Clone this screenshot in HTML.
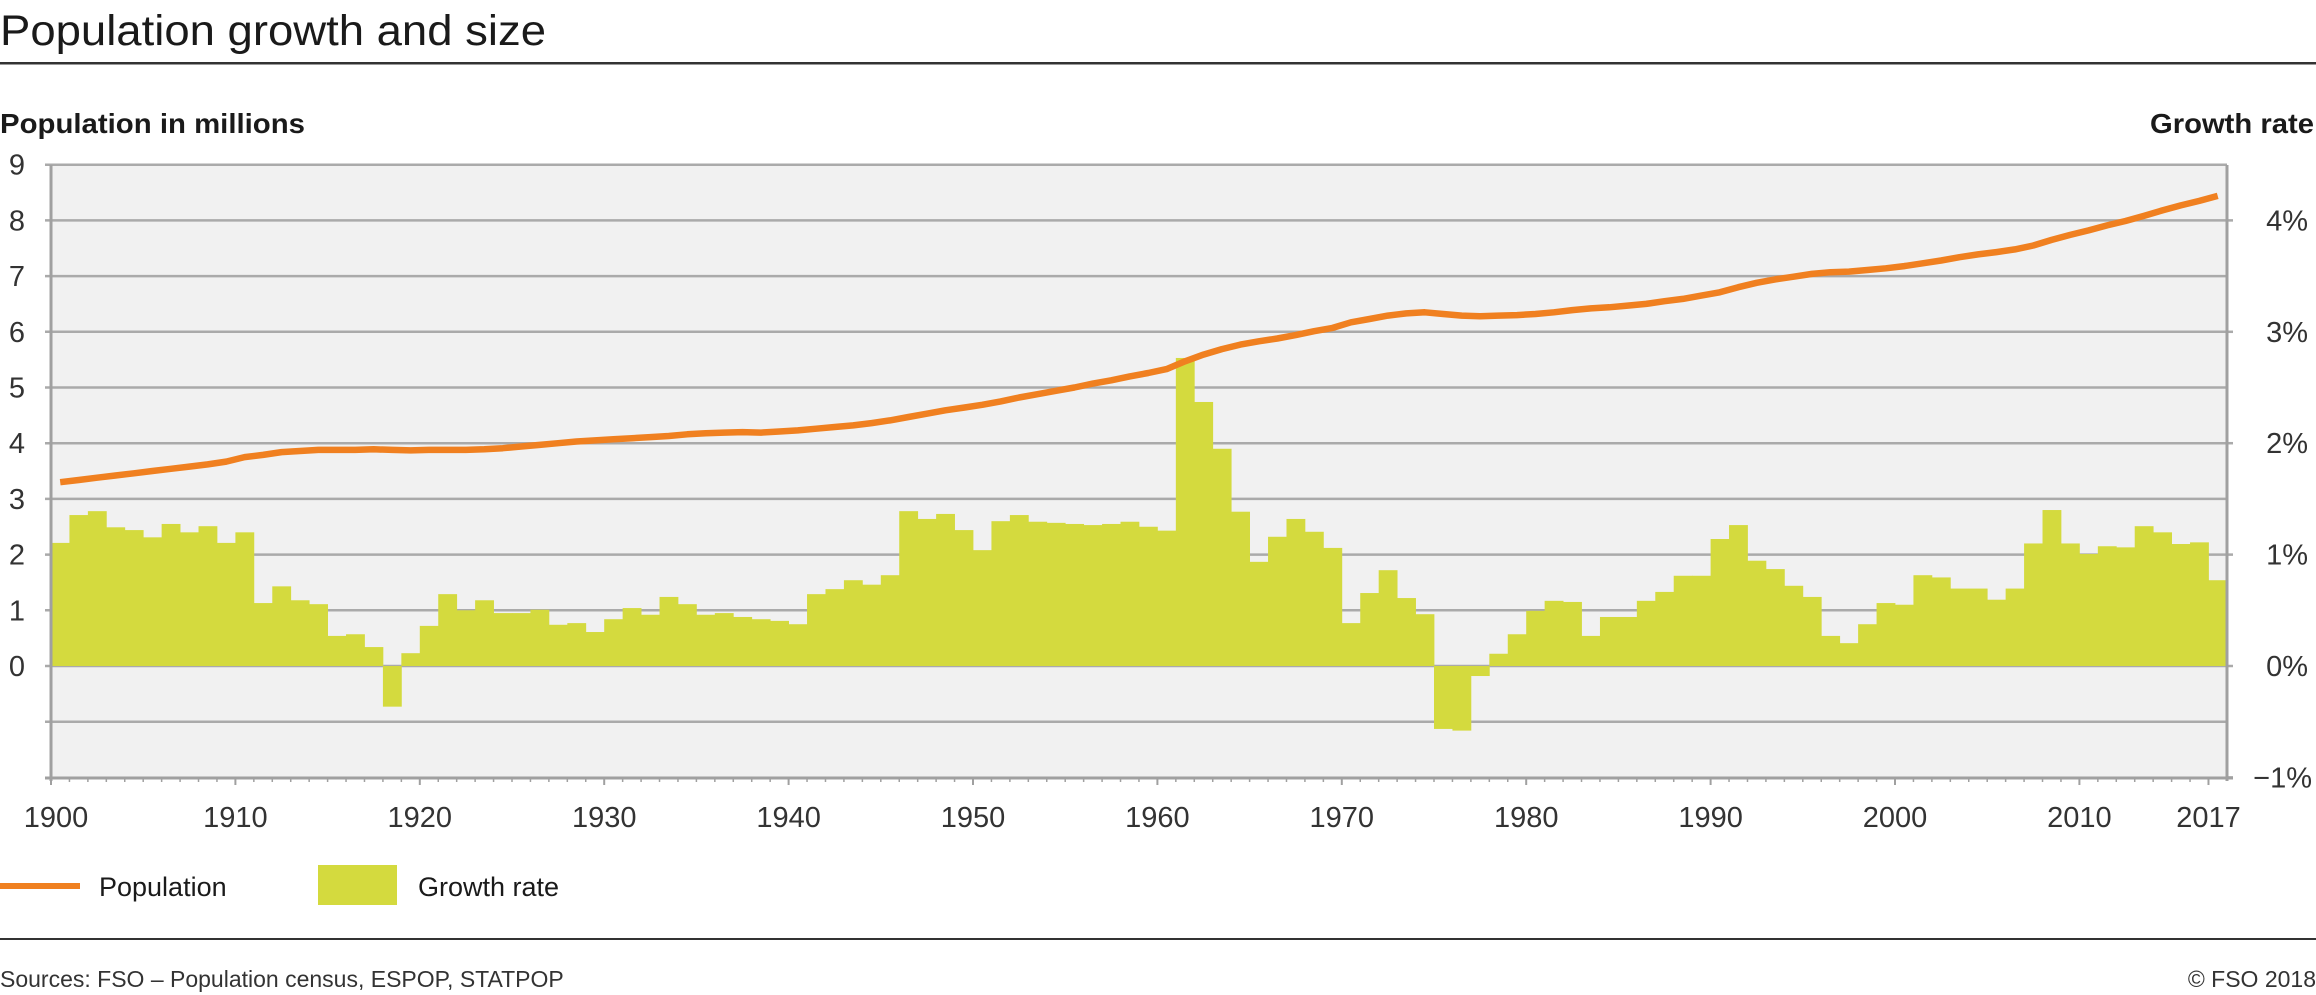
<!DOCTYPE html>
<html><head><meta charset="utf-8">
<style>
html,body{margin:0;padding:0;background:#fff;}
svg{display:block;font-family:"Liberation Sans",sans-serif;}
</style></head>
<body>
<svg id="chart" width="2316" height="995" viewBox="0 0 2316 995" xmlns="http://www.w3.org/2000/svg">
  <text x="0" y="45" font-size="43" fill="#1a1a1a" textLength="546" lengthAdjust="spacingAndGlyphs">Population growth and size</text>
  <rect x="0" y="62" width="2316" height="2.5" fill="#333"/>
  <text x="0" y="133" font-size="28" fill="#1a1a1a" font-weight="bold" textLength="305" lengthAdjust="spacingAndGlyphs">Population in millions</text>
  <text x="2314" y="133" font-size="28" fill="#1a1a1a" font-weight="bold" text-anchor="end" textLength="164" lengthAdjust="spacingAndGlyphs">Growth rate</text>
  <rect x="51" y="165" width="2176" height="613" fill="#f1f1f1"/>
  <g id="grid"></g>
  <g id="bars"></g>
  <g id="line"></g>
  <g id="axes"></g>
  <line x1="0" y1="886" x2="80" y2="886" stroke="#f08020" stroke-width="6"/>
  <text x="99" y="896" font-size="27" fill="#1a1a1a">Population</text>
  <rect x="318" y="865" width="79" height="40" fill="#d4da3e"/>
  <text x="418" y="896" font-size="27" fill="#1a1a1a">Growth rate</text>
  <rect x="0" y="938" width="2316" height="2" fill="#333"/>
  <text x="0" y="987" font-size="23" fill="#333">Sources: FSO – Population census, ESPOP, STATPOP</text>
  <text x="2316" y="987" font-size="23" fill="#333" text-anchor="end">© FSO 2018</text>
</svg>
<script>
const years = [];
for (let y = 1900; y <= 2017; y++) years.push(y);
const population = [3.30,3.34,3.38,3.42,3.46,3.50,3.54,3.58,3.62,3.67,3.75,3.79,3.84,3.86,3.88,3.88,3.88,3.89,3.88,3.87,3.88,3.88,3.88,3.89,3.91,3.94,3.97,4.00,4.03,4.05,4.07,4.09,4.11,4.13,4.16,4.18,4.19,4.20,4.19,4.21,4.23,4.26,4.29,4.32,4.36,4.41,4.47,4.53,4.59,4.64,4.69,4.75,4.82,4.88,4.94,5.00,5.07,5.13,5.20,5.26,5.33,5.47,5.59,5.69,5.77,5.83,5.88,5.94,6.01,6.07,6.17,6.23,6.29,6.33,6.35,6.32,6.29,6.28,6.29,6.30,6.32,6.35,6.39,6.42,6.44,6.47,6.50,6.55,6.59,6.65,6.71,6.80,6.88,6.94,6.99,7.04,7.07,7.08,7.11,7.14,7.18,7.23,7.28,7.34,7.39,7.43,7.48,7.55,7.65,7.74,7.82,7.91,7.99,8.08,8.18,8.27,8.35,8.44];
const growthRate = [1.105,1.355,1.39,1.245,1.22,1.155,1.275,1.2,1.255,1.105,1.2,0.565,0.715,0.59,0.555,0.27,0.285,0.17,-0.365,0.115,0.36,0.645,0.5,0.59,0.475,
0.475,0.505,0.37,0.385,0.305,0.42,0.52,0.46,0.62,0.555,0.46,0.475,0.44,0.42,0.405,0.375,0.645,0.69,0.77,0.73,0.815,1.39,1.32,1.365,1.22,1.04,1.30,1.355,1.295,
1.285,1.275,1.265,1.275,1.295,1.25,1.215,2.765,2.37,1.95,1.385,0.935,1.16,1.32,1.205,1.06,0.385,0.655,0.86,0.61,0.465,-0.565,-0.58,-0.09,0.11,0.285,0.495,0.585,
0.575,0.27,0.44,0.44,0.585,0.665,0.81,0.81,1.14,1.265,0.945,0.87,0.72,0.62,0.27,0.205,0.375,0.565,0.55,0.815,0.795,0.695,0.695,0.595,0.695,1.10,1.40,1.10,1.005,1.075,1.065,1.255,1.20,1.095,1.11,0.77];
const leftTicks = [0,1,2,3,4,5,6,7,8,9];
const gridValues = [-1,0,1,2,3,4,5,6,7,8,9];
const rightTicks = [-1,0,1,2,3,4];
const rightTickLabels = ["−1%","0%","1%","2%","3%","4%"];
const xTicks = [1900,1910,1920,1930,1940,1950,1960,1970,1980,1990,2000,2010,2017];

const NS = "http://www.w3.org/2000/svg";
const X0 = 51, STEP = 18.44, Y0 = 666, UNIT = 55.7;
const xScale = y => X0 + (y - 1900) * STEP;
const yLeft = m => Y0 - m * UNIT;
const yRight = p => Y0 - p * 2 * UNIT;
function mk(tag, attrs, parent) {
  const e = document.createElementNS(NS, tag);
  for (const k in attrs) e.setAttribute(k, attrs[k]);
  parent.appendChild(e);
  return e;
}
const grid = document.getElementById('grid'), bars = document.getElementById('bars'),
      line = document.getElementById('line'), axes = document.getElementById('axes');
const PR = 2227, PB = 778;

gridValues.forEach(v => {
  const el = mk('line', {x1: 45, x2: PR, y1: yLeft(v), y2: yLeft(v), stroke: '#aaaaaa', 'stroke-width': 2.5}, grid);
  
  
});
leftTicks.forEach(v => {
  const t = mk('text', {x: 17, y: yLeft(v) + 10, 'font-size': 29, fill: '#333', 'text-anchor': 'middle'}, axes);
  t.textContent = v;
  
  
});
rightTicks.forEach((v, i) => {
  const t = mk('line', {x1: PR, x2: PR + 6, y1: yRight(v), y2: yRight(v), stroke: '#aaaaaa', 'stroke-width': 2.5}, axes);
  
  
  const l = mk('text', {x: i === 0 ? 2312 : 2308, y: yRight(v) + 10, 'font-size': 29, fill: '#333', 'text-anchor': 'end'}, axes);
  l.textContent = rightTickLabels[i];
  
  
});

years.forEach((yr, i) => {
  const v = growthRate[i];
  const x = xScale(yr);
  const top = Math.min(yRight(v), Y0), h = Math.abs(yRight(v) - Y0);
  const r = mk('rect', {x: x, y: top, width: STEP + 0.4, height: h, fill: '#d4da3e'}, bars);
  
  
});

const pts = years.map((yr, i) => (xScale(yr) + STEP / 2).toFixed(1) + ',' + yLeft(population[i]).toFixed(1)).join(' ');
const pl = mk('polyline', {points: pts, fill: 'none', stroke: '#f08020', 'stroke-width': 6.5, 'stroke-linejoin': 'round'}, line);



const la = mk('line', {x1: X0, x2: X0, y1: 165, y2: PB + 3, stroke: '#a0a0a0', 'stroke-width': 3}, axes);


const ra = mk('line', {x1: PR, x2: PR, y1: 165, y2: PB + 3, stroke: '#a0a0a0', 'stroke-width': 3}, axes);


const ba = mk('line', {x1: 45, x2: PR + 6, y1: PB, y2: PB, stroke: '#a0a0a0', 'stroke-width': 3}, axes);


years.forEach(yr => {
  const major = xTicks.includes(yr);
  const t = mk('line', {x1: xScale(yr), x2: xScale(yr), y1: PB, y2: PB + (major ? 7 : 4), stroke: '#a0a0a0', 'stroke-width': major ? 2 : 1.5}, axes);
  
  
});
xTicks.forEach(yr => {
  const t = mk('text', {x: xScale(yr) + (yr === 1900 ? 5 : 0), y: 827, 'font-size': 29, fill: '#333', 'text-anchor': 'middle'}, axes);
  t.textContent = yr;
  
  
});
</script>
</body></html>
